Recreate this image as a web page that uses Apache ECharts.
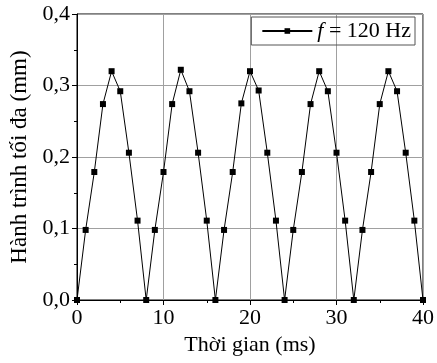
<!DOCTYPE html>
<html>
<head>
<meta charset="utf-8">
<script src="https://cdn.jsdelivr.net/npm/echarts@6/dist/echarts.min.js"></script>
<style>
  html,body{margin:0;padding:0;background:#fff}
  #chart{width:437px;height:363px}
</style>
</head>
<body>
<div id="chart"></div>
<script>
// thoi gian (ms)
const times = [0,1,2,3,4,5,6,7,8,9,10,11,12,13,14,15,16,17,18,19,20,21,22,23,24,25,26,27,28,29,30,31,32,33,34,35,36,37,38,39,40]
// hanh trinh toi da (mm)
const strokes = [
  0, 0.098, 0.179, 0.274, 0.320, 0.292, 0.206, 0.111,
  0, 0.098, 0.179, 0.274, 0.322, 0.292, 0.206, 0.111,
  0, 0.098, 0.179, 0.275, 0.320, 0.293, 0.206, 0.111,
  0, 0.098, 0.179, 0.274, 0.320, 0.292, 0.206, 0.111,
  0, 0.098, 0.179, 0.274, 0.320, 0.292, 0.206, 0.111,
  0
]
const seriesName = 'f = 120 Hz'

const font = 'Liberation Serif, Times New Roman, serif'
const myChart = echarts.init(document.querySelector('#chart'))
const option = {
  animation: false,
  grid: {
    left: 74, right: 11, top: 14, bottom: 63,
    show: true, borderColor: '#000', borderWidth: 1
  },
  legend: {
    right: 22, top: 17,
    itemWidth: 50, itemHeight: 7, itemGap: 0,
    padding: [3, 4, 3, 10],
    borderColor: '#555', borderWidth: 1,
    formatter: () => '{i|f}{t| = 120 Hz}',
    textStyle: {
      fontFamily: font, fontSize: 22, color: '#000',
      rich: {
        i: { fontFamily: font, fontSize: 22, fontStyle: 'italic', color: '#000' },
        t: { fontFamily: font, fontSize: 22, color: '#000' }
      }
    }
  },
  xAxis: {
    type: 'value', min: 0, max: 40, interval: 10,
    name: 'Thời gian (ms)', nameLocation: 'middle', nameGap: 34,
    nameTextStyle: { fontFamily: font, fontSize: 22, color: '#000' },
    axisLine: { lineStyle: { color: '#000' } },
    axisTick: { inside: false, length: 5, lineStyle: { color: '#000' } },
    minorTick: { show: true, splitNumber: 2, length: 3, lineStyle: { color: '#000' } },
    axisLabel: { fontFamily: font, fontSize: 22, color: '#000', margin: 7 },
    splitLine: { show: true, lineStyle: { color: '#a0a0a0', width: 1 } }
  },
  yAxis: {
    type: 'value', min: 0, max: 0.4, interval: 0.1,
    name: 'Hành trình tối đa (mm)', nameLocation: 'middle', nameGap: 46,
    nameTextStyle: { fontFamily: font, fontSize: 23, color: '#000' },
    axisLine: { show: true, lineStyle: { color: '#000' } },
    axisTick: { show: true, inside: false, length: 5, lineStyle: { color: '#000' } },
    minorTick: { show: true, splitNumber: 2, length: 3, lineStyle: { color: '#000' } },
    axisLabel: {
      fontFamily: font, fontSize: 22, color: '#000', margin: 7,
      formatter: v => v.toFixed(1).replace('.', ',')
    },
    splitLine: { show: true, lineStyle: { color: '#a0a0a0', width: 1 } }
  },
  series: [
    {
      name: seriesName,
      type: 'line',
      data: times.map((t, i) => [t, strokes[i]]),
      symbol: 'rect', symbolSize: 6,
      itemStyle: { color: '#000' },
      lineStyle: { color: '#000', width: 1 }
    }
  ]
}
myChart.setOption(option)
</script>
</body>
</html>
